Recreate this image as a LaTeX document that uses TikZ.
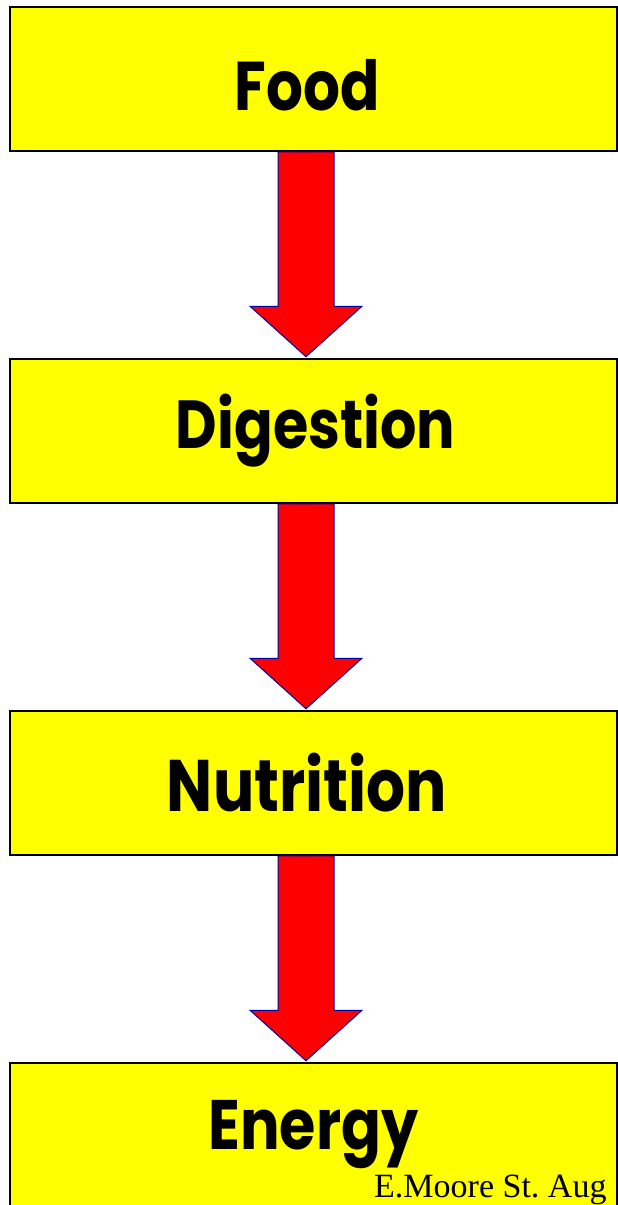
\documentclass[tikz,border=0pt]{standalone}
\usepackage{fontspec}
\usepackage{xcolor}
\usepackage{tikz}
\usetikzlibrary{positioning,calc}
\setmainfont{Liberation Serif}
\newfontfamily\boxfont{Poppins}[FakeStretch=0.84]

\definecolor{boxyellow}{RGB}{255,255,0}
\definecolor{arrowred}{RGB}{255,0,0}
\definecolor{arrowblue}{RGB}{0,0,160}

\begin{document}
\begin{tikzpicture}[x=1pt, y=1pt,
    block/.style={rectangle, draw=black, line width=1.5pt, fill=boxyellow, minimum width=607pt, minimum height=144pt, inner sep=0pt},
    bigarrow/.style={fill=arrowred, draw=arrowblue, line width=1pt, line join=miter,
        to path={($(\tikztostart)+(-35.5,0)$) -- ($(\tikztostart)+(20.5,0)$) -- ($(\tikztotarget)+(20.5,52)$) -- ($(\tikztotarget)+(48.5,52)$) -- ($(\tikztotarget)+(-7.5,1.5)$) -- ($(\tikztotarget)+(-63.5,52)$) -- ($(\tikztotarget)+(-35.5,52)$) -- cycle}}]

    \useasboundingbox (0,0) rectangle (618,-1205);
    \clip (0,0) rectangle (618,-1205);

    % Steps
    \node[block, font=\boxfont\bfseries\fontsize{69}{69}\selectfont, text height=63pt, text depth=0pt] (food) at (313.5,-79) {Food\kern13pt};
    \node[block, font=\boxfont\bfseries\fontsize{68}{68}\selectfont, below=206.5pt of food] (digestion) {\kern4pt Digestion};
    \node[block, font=\boxfont\bfseries\fontsize{73}{73}\selectfont, below=206.5pt of digestion] (nutrition) {Nutrition\kern13pt};
    \node[block, font=\boxfont\bfseries\fontsize{70}{70}\selectfont, below=206.5pt of nutrition] (energy) {Energy};

    % Connect steps
    \draw[bigarrow] (food.south) to (digestion.north);
    \draw[bigarrow] (digestion.south) to (nutrition.north);
    \draw[bigarrow] (nutrition.south) to (energy.north);

    % Credit
    \node[anchor=base west, inner sep=0pt, font=\fontsize{34}{34}\selectfont] (credit) at (374,-1197) {E.Moore St.\ Aug};
\end{tikzpicture}
\end{document}
